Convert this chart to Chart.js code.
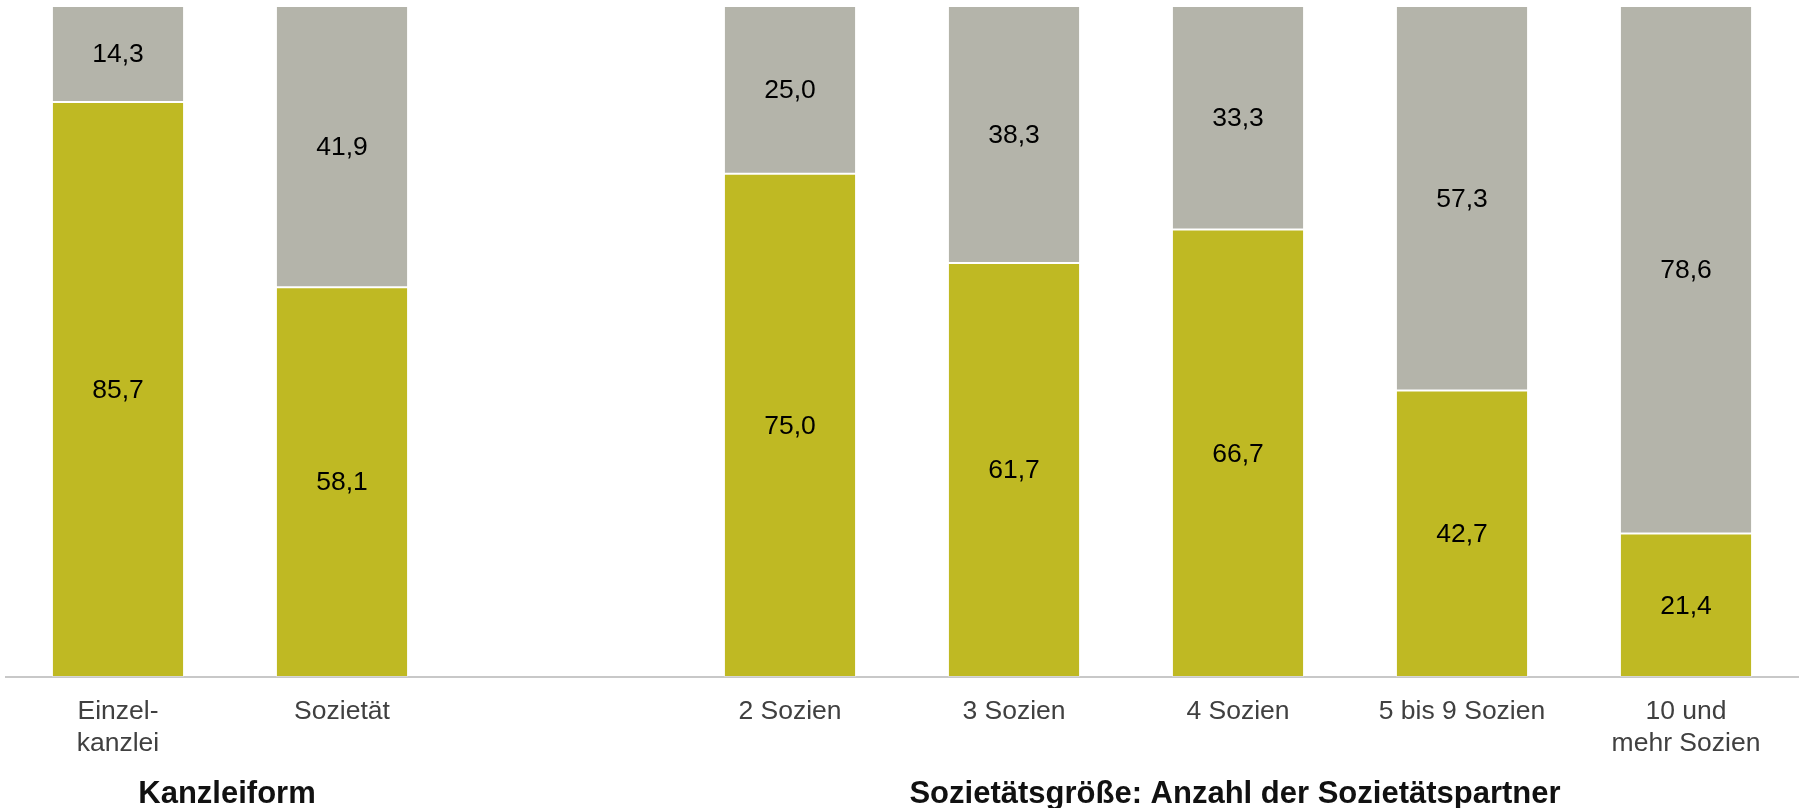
<!DOCTYPE html>
<html lang="de">
<head>
<meta charset="utf-8">
<script src="https://cdn.jsdelivr.net/npm/chart.js@4/dist/chart.umd.min.js"></script>
<style>
  html, body { margin: 0; padding: 0; background: #fff; }
  #wrap { width: 1801px; height: 808px; }
</style>
</head>
<body>
<div id="wrap"><canvas id="barChart" width="1801" height="808"></canvas></div>
<script>
// categories (empty slot separates the two groups)
const categories = [
  ["Einzel-", "kanzlei"],
  "Sozietät",
  "",
  "2 Sozien",
  "3 Sozien",
  "4 Sozien",
  "5 bis 9 Sozien",
  ["10 und", "mehr Sozien"]
];
const lowerValues = [85.7, 58.1, null, 75.0, 61.7, 66.7, 42.7, 21.4];
const upperValues = [14.3, 41.9, null, 25.0, 38.3, 33.3, 57.3, 78.6];

// group titles below the axis: [text, first index, last index]
const groups = [
  ["Kanzleiform", 0, 1],
  ["Sozietätsgröße: Anzahl der Sozietätspartner", 3, 7]
];

const fontFamily = "'Liberation Sans', Arial, sans-serif";
const olive = "#bfb923";
const grey = "#b4b4aa";

const fmt = v => v.toFixed(1).replace(".", ",");

const valueLabels = {
  id: "valueLabels",
  afterDatasetsDraw(chart) {
    const ctx = chart.ctx;
    ctx.save();
    ctx.font = `26.5px ${fontFamily}`;
    ctx.fillStyle = "#000";
    ctx.textAlign = "center";
    ctx.textBaseline = "middle";
    chart.data.datasets.forEach((ds, di) => {
      chart.getDatasetMeta(di).data.forEach((bar, i) => {
        const v = ds.data[i];
        if (v == null) return;
        ctx.fillText(fmt(v), bar.x, (bar.y + bar.base) / 2 + 1);
      });
    });
    ctx.restore();
  }
};

const groupTitles = {
  id: "groupTitles",
  afterDraw(chart) {
    const ctx = chart.ctx;
    const x = chart.scales.x;
    ctx.save();
    ctx.font = `bold 31px ${fontFamily}`;
    ctx.fillStyle = "#111";
    ctx.textAlign = "center";
    ctx.textBaseline = "alphabetic";
    groups.forEach(([text, a, b]) => {
      const cx = (x.getPixelForValue(a) + x.getPixelForValue(b)) / 2;
      ctx.fillText(text, cx - 3, 803);
    });
    ctx.restore();
  }
};

new Chart(document.getElementById("barChart").getContext("2d"), {
  type: "bar",
  data: {
    labels: categories,
    datasets: [
      {
        label: "unten",
        data: lowerValues,
        backgroundColor: olive,
        borderColor: "rgba(255,255,255,0.25)",
        borderWidth: 1,
        borderSkipped: false
      },
      {
        label: "oben",
        data: upperValues,
        backgroundColor: grey,
        borderColor: "rgba(255,255,255,0.25)",
        borderWidth: 1,
        borderSkipped: false
      }
    ]
  },
  options: {
    responsive: false,
    animation: false,
    devicePixelRatio: 1,
    layout: { padding: { left: 6, right: 3, top: 6, bottom: 0 } },
    datasets: {
      bar: { categoryPercentage: 1, barPercentage: 0.59 }
    },
    plugins: {
      legend: { display: false },
      tooltip: { enabled: false }
    },
    scales: {
      x: {
        stacked: true,
        grid: { display: false },
        border: { display: true, color: "#c8c8c8", width: 2 },
        ticks: {
          color: "#404040",
          padding: 11,
          maxRotation: 0,
          autoSkip: false,
          font: { family: fontFamily, size: 26.5, lineHeight: 1.2 }
        },
        afterFit(scale) { scale.height = 131; }
      },
      y: {
        stacked: true,
        display: false,
        min: 0,
        max: 100
      }
    }
  },
  plugins: [valueLabels, groupTitles]
});
</script>
</body>
</html>
